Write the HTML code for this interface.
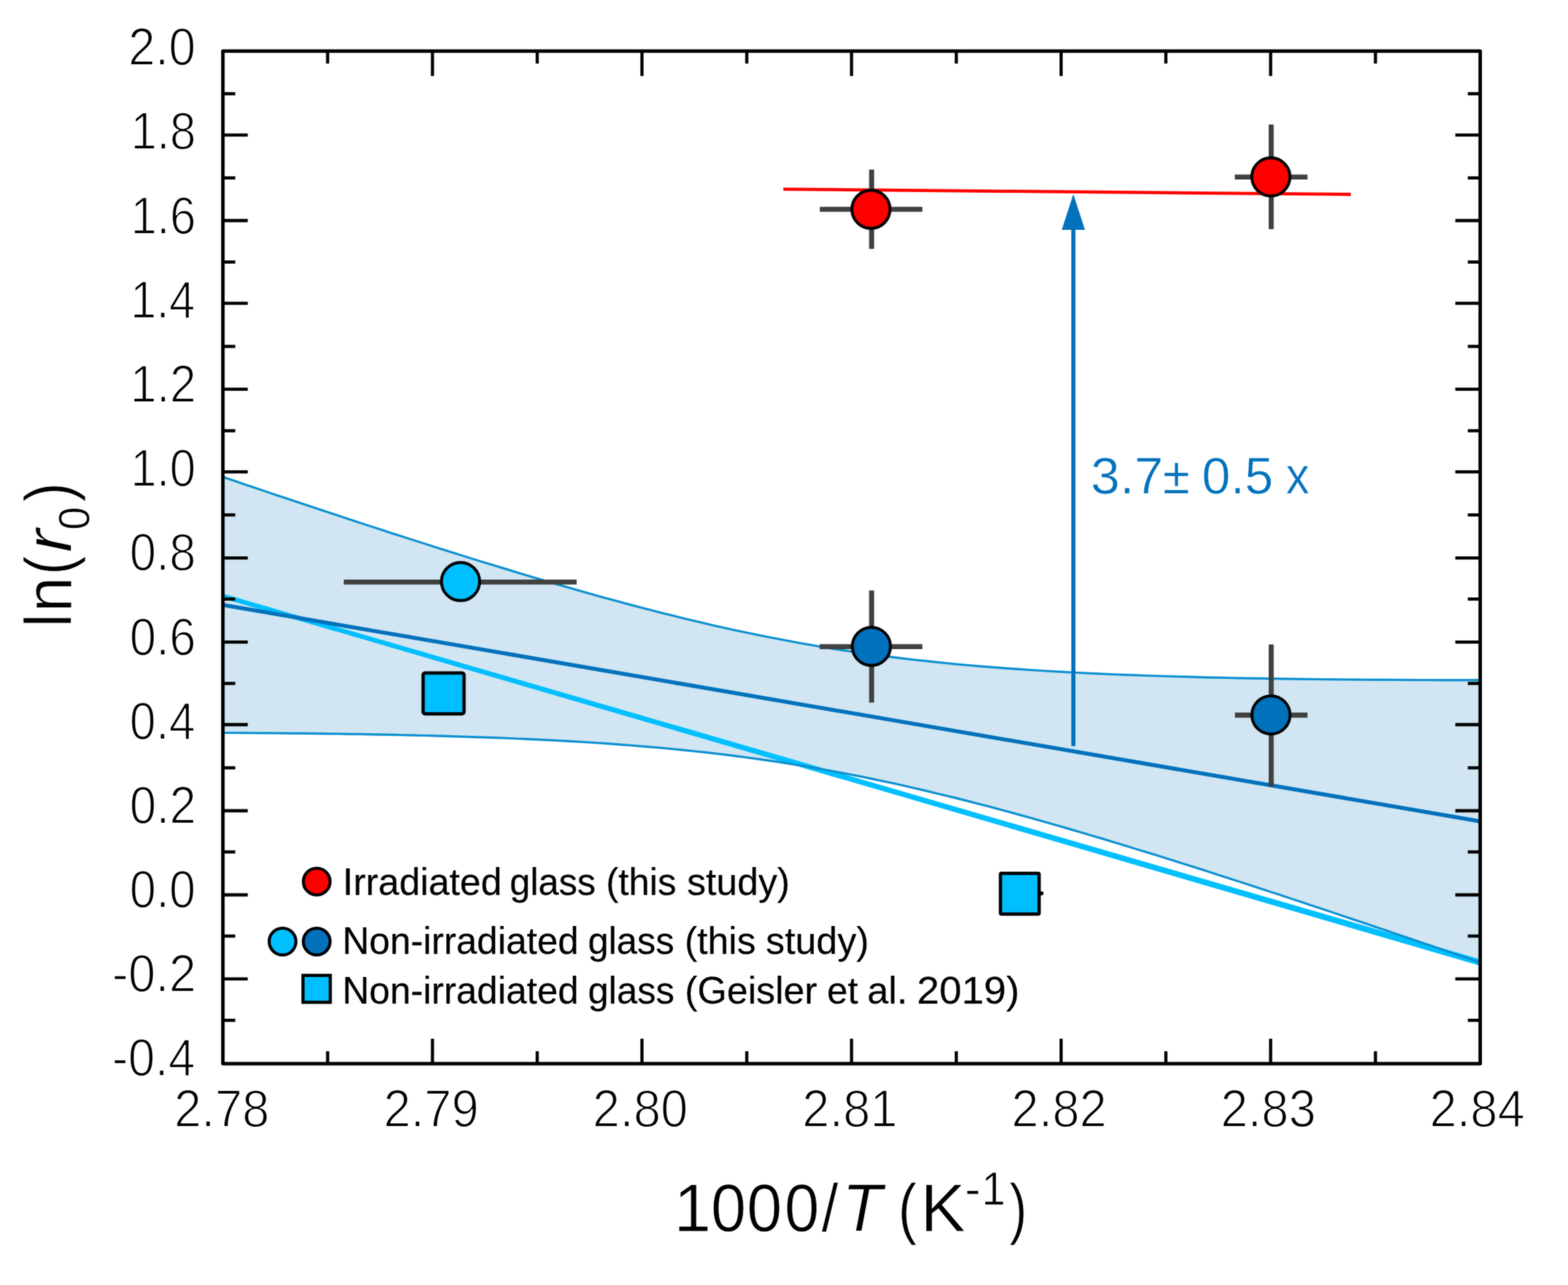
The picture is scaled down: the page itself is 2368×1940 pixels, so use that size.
<!DOCTYPE html>
<html lang="en"><head><meta charset="utf-8"><title>ln(r0) vs 1000/T</title>
<style>html,body{margin:0;padding:0;background:#fff;}svg{display:block;}</style></head>
<body>
<svg width="2368" height="1940" viewBox="0 0 2368 1940" font-family='"Liberation Sans", Arial, Helvetica, sans-serif'>
<defs><filter id="soft" filterUnits="userSpaceOnUse" x="0" y="0" width="2368" height="1940" color-interpolation-filters="sRGB"><feGaussianBlur stdDeviation="0.9" result="b"/><feComposite in="SourceGraphic" in2="b" operator="arithmetic" k1="0" k2="0.5" k3="0.5" k4="0"/></filter></defs>
<g filter="url(#soft)">
<rect x="0" y="0" width="2368" height="1940" fill="#ffffff"/>
<polygon points="336.6,720.1 352.4,725.4 368.2,730.8 384.1,736.1 399.9,741.5 415.7,746.8 431.5,752.1 447.4,757.4 463.2,762.7 479.0,767.9 494.8,773.2 510.7,778.4 526.5,783.6 542.3,788.8 558.1,794.0 574.0,799.1 589.8,804.3 605.6,809.4 621.4,814.5 637.2,819.5 653.1,824.6 668.9,829.6 684.7,834.6 700.5,839.5 716.4,844.5 732.2,849.4 748.0,854.2 763.8,859.0 779.7,863.8 795.5,868.6 811.3,873.3 827.1,878.0 842.9,882.6 858.8,887.2 874.6,891.7 890.4,896.1 906.2,900.6 922.1,904.9 937.9,909.2 953.7,913.5 969.5,917.6 985.4,921.7 1001.2,925.8 1017.0,929.7 1032.8,933.6 1048.7,937.4 1064.5,941.1 1080.3,944.8 1096.1,948.3 1111.9,951.8 1127.8,955.2 1143.6,958.4 1159.4,961.6 1175.2,964.7 1191.1,967.7 1206.9,970.6 1222.7,973.4 1238.5,976.1 1254.4,978.7 1270.2,981.2 1286.0,983.6 1301.8,985.9 1317.6,988.1 1333.5,990.3 1349.3,992.3 1365.1,994.2 1380.9,996.1 1396.8,997.8 1412.6,999.5 1428.4,1001.1 1444.2,1002.7 1460.1,1004.1 1475.9,1005.5 1491.7,1006.8 1507.5,1008.0 1523.3,1009.2 1539.2,1010.3 1555.0,1011.4 1570.8,1012.4 1586.6,1013.4 1602.5,1014.3 1618.3,1015.1 1634.1,1015.9 1649.9,1016.7 1665.8,1017.4 1681.6,1018.1 1697.4,1018.7 1713.2,1019.3 1729.1,1019.9 1744.9,1020.4 1760.7,1020.9 1776.5,1021.4 1792.3,1021.8 1808.2,1022.3 1824.0,1022.7 1839.8,1023.0 1855.6,1023.4 1871.5,1023.7 1887.3,1024.0 1903.1,1024.3 1918.9,1024.5 1934.8,1024.8 1950.6,1025.0 1966.4,1025.2 1982.2,1025.4 1998.1,1025.6 2013.9,1025.7 2029.7,1025.9 2045.5,1026.0 2061.3,1026.1 2077.2,1026.2 2093.0,1026.3 2108.8,1026.4 2124.6,1026.5 2140.5,1026.6 2156.3,1026.6 2172.1,1026.7 2187.9,1026.7 2203.8,1026.7 2219.6,1026.7 2235.4,1026.7 2235.4,1453.2 2219.6,1447.8 2203.8,1442.4 2187.9,1437.0 2172.1,1431.5 2156.3,1426.1 2140.5,1420.8 2124.6,1415.4 2108.8,1410.0 2093.0,1404.6 2077.2,1399.3 2061.3,1393.9 2045.5,1388.6 2029.7,1383.3 2013.9,1378.0 1998.1,1372.7 1982.2,1367.5 1966.4,1362.2 1950.6,1357.0 1934.8,1351.7 1918.9,1346.5 1903.1,1341.4 1887.3,1336.2 1871.5,1331.0 1855.6,1325.9 1839.8,1320.8 1824.0,1315.7 1808.2,1310.7 1792.3,1305.7 1776.5,1300.7 1760.7,1295.7 1744.9,1290.7 1729.1,1285.8 1713.2,1281.0 1697.4,1276.1 1681.6,1271.3 1665.8,1266.5 1649.9,1261.8 1634.1,1257.1 1618.3,1252.5 1602.5,1247.9 1586.6,1243.3 1570.8,1238.8 1555.0,1234.4 1539.2,1230.0 1523.3,1225.7 1507.5,1221.4 1491.7,1217.2 1475.9,1213.1 1460.1,1209.0 1444.2,1205.0 1428.4,1201.1 1412.6,1197.3 1396.8,1193.5 1380.9,1189.8 1365.1,1186.2 1349.3,1182.7 1333.5,1179.3 1317.6,1176.0 1301.8,1172.7 1286.0,1169.6 1270.2,1166.6 1254.4,1163.6 1238.5,1160.8 1222.7,1158.0 1206.9,1155.4 1191.1,1152.8 1175.2,1150.4 1159.4,1148.0 1143.6,1145.8 1127.8,1143.6 1111.9,1141.5 1096.1,1139.5 1080.3,1137.6 1064.5,1135.8 1048.7,1134.1 1032.8,1132.5 1017.0,1130.9 1001.2,1129.4 985.4,1128.0 969.5,1126.7 953.7,1125.4 937.9,1124.2 922.1,1123.0 906.2,1121.9 890.4,1120.9 874.6,1119.9 858.8,1119.0 842.9,1118.1 827.1,1117.3 811.3,1116.5 795.5,1115.8 779.7,1115.1 763.8,1114.4 748.0,1113.8 732.2,1113.2 716.4,1112.7 700.5,1112.2 684.7,1111.7 668.9,1111.2 653.1,1110.8 637.2,1110.4 621.4,1110.0 605.6,1109.6 589.8,1109.3 574.0,1109.0 558.1,1108.7 542.3,1108.4 526.5,1108.2 510.7,1107.9 494.8,1107.7 479.0,1107.5 463.2,1107.3 447.4,1107.2 431.5,1107.0 415.7,1106.9 399.9,1106.8 384.1,1106.6 368.2,1106.5 352.4,1106.4 336.6,1106.4" fill="#d1e6f2"/>
<polygon points="336.6,896.2 2235.4,1448.3 2235.4,1457.9 336.6,903.4" fill="#00bfff"/>
<polyline points="336.6,720.1 352.4,725.4 368.2,730.8 384.1,736.1 399.9,741.5 415.7,746.8 431.5,752.1 447.4,757.4 463.2,762.7 479.0,767.9 494.8,773.2 510.7,778.4 526.5,783.6 542.3,788.8 558.1,794.0 574.0,799.1 589.8,804.3 605.6,809.4 621.4,814.5 637.2,819.5 653.1,824.6 668.9,829.6 684.7,834.6 700.5,839.5 716.4,844.5 732.2,849.4 748.0,854.2 763.8,859.0 779.7,863.8 795.5,868.6 811.3,873.3 827.1,878.0 842.9,882.6 858.8,887.2 874.6,891.7 890.4,896.1 906.2,900.6 922.1,904.9 937.9,909.2 953.7,913.5 969.5,917.6 985.4,921.7 1001.2,925.8 1017.0,929.7 1032.8,933.6 1048.7,937.4 1064.5,941.1 1080.3,944.8 1096.1,948.3 1111.9,951.8 1127.8,955.2 1143.6,958.4 1159.4,961.6 1175.2,964.7 1191.1,967.7 1206.9,970.6 1222.7,973.4 1238.5,976.1 1254.4,978.7 1270.2,981.2 1286.0,983.6 1301.8,985.9 1317.6,988.1 1333.5,990.3 1349.3,992.3 1365.1,994.2 1380.9,996.1 1396.8,997.8 1412.6,999.5 1428.4,1001.1 1444.2,1002.7 1460.1,1004.1 1475.9,1005.5 1491.7,1006.8 1507.5,1008.0 1523.3,1009.2 1539.2,1010.3 1555.0,1011.4 1570.8,1012.4 1586.6,1013.4 1602.5,1014.3 1618.3,1015.1 1634.1,1015.9 1649.9,1016.7 1665.8,1017.4 1681.6,1018.1 1697.4,1018.7 1713.2,1019.3 1729.1,1019.9 1744.9,1020.4 1760.7,1020.9 1776.5,1021.4 1792.3,1021.8 1808.2,1022.3 1824.0,1022.7 1839.8,1023.0 1855.6,1023.4 1871.5,1023.7 1887.3,1024.0 1903.1,1024.3 1918.9,1024.5 1934.8,1024.8 1950.6,1025.0 1966.4,1025.2 1982.2,1025.4 1998.1,1025.6 2013.9,1025.7 2029.7,1025.9 2045.5,1026.0 2061.3,1026.1 2077.2,1026.2 2093.0,1026.3 2108.8,1026.4 2124.6,1026.5 2140.5,1026.6 2156.3,1026.6 2172.1,1026.7 2187.9,1026.7 2203.8,1026.7 2219.6,1026.7 2235.4,1026.7" fill="none" stroke="#0a8fcf" stroke-width="3.4"/>
<polyline points="336.6,1106.4 352.4,1106.4 368.2,1106.5 384.1,1106.6 399.9,1106.8 415.7,1106.9 431.5,1107.0 447.4,1107.2 463.2,1107.3 479.0,1107.5 494.8,1107.7 510.7,1107.9 526.5,1108.2 542.3,1108.4 558.1,1108.7 574.0,1109.0 589.8,1109.3 605.6,1109.6 621.4,1110.0 637.2,1110.4 653.1,1110.8 668.9,1111.2 684.7,1111.7 700.5,1112.2 716.4,1112.7 732.2,1113.2 748.0,1113.8 763.8,1114.4 779.7,1115.1 795.5,1115.8 811.3,1116.5 827.1,1117.3 842.9,1118.1 858.8,1119.0 874.6,1119.9 890.4,1120.9 906.2,1121.9 922.1,1123.0 937.9,1124.2 953.7,1125.4 969.5,1126.7 985.4,1128.0 1001.2,1129.4 1017.0,1130.9 1032.8,1132.5 1048.7,1134.1 1064.5,1135.8 1080.3,1137.6 1096.1,1139.5 1111.9,1141.5 1127.8,1143.6 1143.6,1145.8 1159.4,1148.0 1175.2,1150.4 1191.1,1152.8 1206.9,1155.4 1222.7,1158.0 1238.5,1160.8 1254.4,1163.6 1270.2,1166.6 1286.0,1169.6 1301.8,1172.7 1317.6,1176.0 1333.5,1179.3 1349.3,1182.7 1365.1,1186.2 1380.9,1189.8 1396.8,1193.5 1412.6,1197.3 1428.4,1201.1 1444.2,1205.0 1460.1,1209.0 1475.9,1213.1 1491.7,1217.2 1507.5,1221.4 1523.3,1225.7 1539.2,1230.0 1555.0,1234.4 1570.8,1238.8 1586.6,1243.3 1602.5,1247.9 1618.3,1252.5 1634.1,1257.1 1649.9,1261.8 1665.8,1266.5 1681.6,1271.3 1697.4,1276.1 1713.2,1281.0 1729.1,1285.8 1744.9,1290.7 1760.7,1295.7 1776.5,1300.7 1792.3,1305.7 1808.2,1310.7 1824.0,1315.7 1839.8,1320.8 1855.6,1325.9 1871.5,1331.0 1887.3,1336.2 1903.1,1341.4 1918.9,1346.5 1934.8,1351.7 1950.6,1357.0 1966.4,1362.2 1982.2,1367.5 1998.1,1372.7 2013.9,1378.0 2029.7,1383.3 2045.5,1388.6 2061.3,1393.9 2077.2,1399.3 2093.0,1404.6 2108.8,1410.0 2124.6,1415.4 2140.5,1420.8 2156.3,1426.1 2172.1,1431.5 2187.9,1437.0 2203.8,1442.4 2219.6,1447.8 2235.4,1453.2" fill="none" stroke="#0a8fcf" stroke-width="3.4"/>
<line x1="336.6" y1="913.2" x2="2235.4" y2="1240.0" stroke="#0271bb" stroke-width="6.0"/>
<line x1="1621" y1="340" x2="1621" y2="1126.5" stroke="#0271bb" stroke-width="6.2"/>
<polygon points="1621,293 1638.5,347 1603.5,347" fill="#0271bb"/>
<g stroke="#000" stroke-width="4.8" stroke-linecap="butt">
<line x1="336.6" y1="141.5" x2="355.3" y2="141.5"/>
<line x1="2235.4" y1="141.5" x2="2216.7" y2="141.5"/>
<line x1="336.6" y1="203.8" x2="374.2" y2="203.8"/>
<line x1="2235.4" y1="203.8" x2="2197.8" y2="203.8"/>
<line x1="336.6" y1="268.6" x2="355.3" y2="268.6"/>
<line x1="2235.4" y1="268.6" x2="2216.7" y2="268.6"/>
<line x1="336.6" y1="333.0" x2="374.2" y2="333.0"/>
<line x1="2235.4" y1="333.0" x2="2197.8" y2="333.0"/>
<line x1="336.6" y1="395.6" x2="355.3" y2="395.6"/>
<line x1="2235.4" y1="395.6" x2="2216.7" y2="395.6"/>
<line x1="336.6" y1="457.8" x2="374.2" y2="457.8"/>
<line x1="2235.4" y1="457.8" x2="2197.8" y2="457.8"/>
<line x1="336.6" y1="523.0" x2="355.3" y2="523.0"/>
<line x1="2235.4" y1="523.0" x2="2216.7" y2="523.0"/>
<line x1="336.6" y1="587.6" x2="374.2" y2="587.6"/>
<line x1="2235.4" y1="587.6" x2="2197.8" y2="587.6"/>
<line x1="336.6" y1="650.3" x2="355.3" y2="650.3"/>
<line x1="2235.4" y1="650.3" x2="2216.7" y2="650.3"/>
<line x1="336.6" y1="712.3" x2="374.2" y2="712.3"/>
<line x1="2235.4" y1="712.3" x2="2197.8" y2="712.3"/>
<line x1="336.6" y1="777.4" x2="355.3" y2="777.4"/>
<line x1="2235.4" y1="777.4" x2="2216.7" y2="777.4"/>
<line x1="336.6" y1="842.3" x2="374.2" y2="842.3"/>
<line x1="2235.4" y1="842.3" x2="2197.8" y2="842.3"/>
<line x1="336.6" y1="904.4" x2="355.3" y2="904.4"/>
<line x1="2235.4" y1="904.4" x2="2216.7" y2="904.4"/>
<line x1="336.6" y1="969.3" x2="374.2" y2="969.3"/>
<line x1="2235.4" y1="969.3" x2="2197.8" y2="969.3"/>
<line x1="336.6" y1="1031.8" x2="355.3" y2="1031.8"/>
<line x1="2235.4" y1="1031.8" x2="2216.7" y2="1031.8"/>
<line x1="336.6" y1="1094.0" x2="374.2" y2="1094.0"/>
<line x1="2235.4" y1="1094.0" x2="2197.8" y2="1094.0"/>
<line x1="336.6" y1="1159.2" x2="355.3" y2="1159.2"/>
<line x1="2235.4" y1="1159.2" x2="2216.7" y2="1159.2"/>
<line x1="336.6" y1="1224.0" x2="374.2" y2="1224.0"/>
<line x1="2235.4" y1="1224.0" x2="2197.8" y2="1224.0"/>
<line x1="336.6" y1="1286.2" x2="355.3" y2="1286.2"/>
<line x1="2235.4" y1="1286.2" x2="2216.7" y2="1286.2"/>
<line x1="336.6" y1="1351.0" x2="374.2" y2="1351.0"/>
<line x1="2235.4" y1="1351.0" x2="2197.8" y2="1351.0"/>
<line x1="336.6" y1="1413.2" x2="355.3" y2="1413.2"/>
<line x1="2235.4" y1="1413.2" x2="2216.7" y2="1413.2"/>
<line x1="336.6" y1="1477.8" x2="374.2" y2="1477.8"/>
<line x1="2235.4" y1="1477.8" x2="2197.8" y2="1477.8"/>
<line x1="336.6" y1="1540.4" x2="355.3" y2="1540.4"/>
<line x1="2235.4" y1="1540.4" x2="2216.7" y2="1540.4"/>
<line x1="494.8" y1="77.2" x2="494.8" y2="95.9"/>
<line x1="494.8" y1="1605.8" x2="494.8" y2="1587.1"/>
<line x1="653.1" y1="77.2" x2="653.1" y2="114.8"/>
<line x1="653.1" y1="1605.8" x2="653.1" y2="1568.2"/>
<line x1="811.3" y1="77.2" x2="811.3" y2="95.9"/>
<line x1="811.3" y1="1605.8" x2="811.3" y2="1587.1"/>
<line x1="969.5" y1="77.2" x2="969.5" y2="114.8"/>
<line x1="969.5" y1="1605.8" x2="969.5" y2="1568.2"/>
<line x1="1127.8" y1="77.2" x2="1127.8" y2="95.9"/>
<line x1="1127.8" y1="1605.8" x2="1127.8" y2="1587.1"/>
<line x1="1286.0" y1="77.2" x2="1286.0" y2="114.8"/>
<line x1="1286.0" y1="1605.8" x2="1286.0" y2="1568.2"/>
<line x1="1444.2" y1="77.2" x2="1444.2" y2="95.9"/>
<line x1="1444.2" y1="1605.8" x2="1444.2" y2="1587.1"/>
<line x1="1602.5" y1="77.2" x2="1602.5" y2="114.8"/>
<line x1="1602.5" y1="1605.8" x2="1602.5" y2="1568.2"/>
<line x1="1760.7" y1="77.2" x2="1760.7" y2="95.9"/>
<line x1="1760.7" y1="1605.8" x2="1760.7" y2="1587.1"/>
<line x1="1918.9" y1="77.2" x2="1918.9" y2="114.8"/>
<line x1="1918.9" y1="1605.8" x2="1918.9" y2="1568.2"/>
<line x1="2077.2" y1="77.2" x2="2077.2" y2="95.9"/>
<line x1="2077.2" y1="1605.8" x2="2077.2" y2="1587.1"/>
</g>
<rect x="336.6" y="77.2" width="1898.8" height="1528.6" fill="none" stroke="#000" stroke-width="5.3" stroke-linejoin="round"/>
<line x1="1183" y1="285.6" x2="2040" y2="293.5" stroke="#ff0000" stroke-width="4.8"/>
<line x1="519.1" y1="878.8" x2="870.9" y2="878.8" stroke="#404040" stroke-width="7.6" stroke-linecap="butt"/>
<circle cx="695.5" cy="878" r="28.8" fill="#00bfff" stroke="#000" stroke-width="4.4"/>
<line x1="1238.1" y1="316" x2="1393.0" y2="316" stroke="#404040" stroke-width="7.6" stroke-linecap="butt"/>
<line x1="1316.3" y1="255.9" x2="1316.3" y2="375.79999999999995" stroke="#404040" stroke-width="7.6" stroke-linecap="butt"/>
<circle cx="1315.3" cy="316" r="28.8" fill="#ff0000" stroke="#000" stroke-width="4.4"/>
<line x1="1864.8" y1="267.3" x2="1974.6000000000001" y2="267.3" stroke="#404040" stroke-width="7.6" stroke-linecap="butt"/>
<line x1="1919.8" y1="187.9" x2="1919.8" y2="346.0" stroke="#404040" stroke-width="7.6" stroke-linecap="butt"/>
<circle cx="1919.3" cy="267.1" r="28.8" fill="#ff0000" stroke="#000" stroke-width="4.4"/>
<line x1="1237.8" y1="976.2" x2="1393.0" y2="976.2" stroke="#404040" stroke-width="7.6" stroke-linecap="butt"/>
<line x1="1316.3" y1="891.6" x2="1316.3" y2="1060.8000000000002" stroke="#404040" stroke-width="7.6" stroke-linecap="butt"/>
<circle cx="1316" cy="975.9" r="28.8" fill="#0271bb" stroke="#000" stroke-width="4.4"/>
<line x1="1865.0" y1="1079.6" x2="1974.6000000000001" y2="1079.6" stroke="#404040" stroke-width="7.6" stroke-linecap="butt"/>
<line x1="1919.8" y1="972.9" x2="1919.8" y2="1187.3000000000002" stroke="#404040" stroke-width="7.6" stroke-linecap="butt"/>
<circle cx="1919.4" cy="1079.4" r="28.8" fill="#0271bb" stroke="#000" stroke-width="4.4"/>
<rect x="639.0" y="1015.9" width="61.8" height="61.8" rx="3" fill="#00bfff" stroke="#000" stroke-width="5"/>
<line x1="1565" y1="1348.8" x2="1573" y2="1348.8" stroke="#000" stroke-width="6" stroke-linecap="round"/>
<rect x="1510.9" y="1318.6" width="58.4" height="61.4" rx="1.5" fill="#00bfff" stroke="#000" stroke-width="5"/>
<circle cx="478.3" cy="1330.9" r="20.2" fill="#ff0000" stroke="#000" stroke-width="4.6"/>
<circle cx="426.7" cy="1421.5" r="20.2" fill="#00bfff" stroke="#000" stroke-width="4.6"/>
<circle cx="478.3" cy="1421.5" r="20.2" fill="#0271bb" stroke="#000" stroke-width="4.6"/>
<rect x="457.6" y="1472.6" width="41.2" height="40.6" fill="#00bfff" stroke="#000" stroke-width="4.8"/>
<text y="1350.50" font-size="57.1" fill="#000" stroke="#000" stroke-width="0.25" stroke-linejoin="round"><tspan x="517.61" textLength="240.24" lengthAdjust="spacingAndGlyphs">Irradiated</tspan> <tspan x="769.69" textLength="130.00" lengthAdjust="spacingAndGlyphs">glass</tspan> <tspan x="915.25" textLength="106.23" lengthAdjust="spacingAndGlyphs">(this</tspan> <tspan x="1037.51" textLength="155.26" lengthAdjust="spacingAndGlyphs">study)</tspan></text>
<text y="1439.80" font-size="57.1" fill="#000" stroke="#000" stroke-width="0.25" stroke-linejoin="round"><tspan x="516.92" textLength="356.90" lengthAdjust="spacingAndGlyphs">Non-irradiated</tspan> <tspan x="887.89" textLength="130.31" lengthAdjust="spacingAndGlyphs">glass</tspan> <tspan x="1034.01" textLength="107.39" lengthAdjust="spacingAndGlyphs">(this</tspan> <tspan x="1156.61" textLength="155.67" lengthAdjust="spacingAndGlyphs">study)</tspan></text>
<text y="1515.20" font-size="57.1" fill="#000" stroke="#000" stroke-width="0.25" stroke-linejoin="round"><tspan x="516.92" textLength="356.90" lengthAdjust="spacingAndGlyphs">Non-irradiated</tspan> <tspan x="887.88" textLength="130.62" lengthAdjust="spacingAndGlyphs">glass</tspan> <tspan x="1034.20" textLength="199.96" lengthAdjust="spacingAndGlyphs">(Geisler</tspan> <tspan x="1249.10" textLength="46.78" lengthAdjust="spacingAndGlyphs">et</tspan> <tspan x="1309.84" textLength="60.78" lengthAdjust="spacingAndGlyphs">al.</tspan> <tspan x="1384.81" textLength="154.85" lengthAdjust="spacingAndGlyphs">2019)</tspan></text>
<text y="745.30" font-size="77.0" fill="#0271bb" stroke="#fff" stroke-width="0.7"><tspan x="1647.29" textLength="109.63" lengthAdjust="spacingAndGlyphs">3.7</tspan><tspan x="1756.24" textLength="40.74" lengthAdjust="spacingAndGlyphs">±</tspan> <tspan x="1815.05" textLength="107.82" lengthAdjust="spacingAndGlyphs">0.5</tspan> <tspan x="1941.91" textLength="35.58" lengthAdjust="spacingAndGlyphs">x</tspan></text>
<text y="98.20" font-size="79.0" fill="#000" stroke="#fff" stroke-width="1.8"><tspan x="193.81" textLength="101.77" lengthAdjust="spacingAndGlyphs">2.0</tspan></text>
<text y="225.39" font-size="79.0" fill="#000" stroke="#fff" stroke-width="1.8"><tspan x="197.38" textLength="98.42" lengthAdjust="spacingAndGlyphs">1.8</tspan></text>
<text y="352.58" font-size="79.0" fill="#000" stroke="#fff" stroke-width="1.8"><tspan x="197.38" textLength="98.42" lengthAdjust="spacingAndGlyphs">1.6</tspan></text>
<text y="479.77" font-size="79.0" fill="#000" stroke="#fff" stroke-width="1.8"><tspan x="196.92" textLength="97.80" lengthAdjust="spacingAndGlyphs">1.4</tspan></text>
<text y="606.96" font-size="79.0" fill="#000" stroke="#fff" stroke-width="1.8"><tspan x="196.82" textLength="99.37" lengthAdjust="spacingAndGlyphs">1.2</tspan></text>
<text y="734.15" font-size="79.0" fill="#000" stroke="#fff" stroke-width="1.8"><tspan x="197.19" textLength="98.25" lengthAdjust="spacingAndGlyphs">1.0</tspan></text>
<text y="861.34" font-size="79.0" fill="#000" stroke="#fff" stroke-width="1.8"><tspan x="195.80" textLength="100.07" lengthAdjust="spacingAndGlyphs">0.8</tspan></text>
<text y="988.53" font-size="79.0" fill="#000" stroke="#fff" stroke-width="1.8"><tspan x="195.80" textLength="100.07" lengthAdjust="spacingAndGlyphs">0.6</tspan></text>
<text y="1115.72" font-size="79.0" fill="#000" stroke="#fff" stroke-width="1.8"><tspan x="195.84" textLength="98.91" lengthAdjust="spacingAndGlyphs">0.4</tspan></text>
<text y="1242.91" font-size="79.0" fill="#000" stroke="#fff" stroke-width="1.8"><tspan x="195.79" textLength="100.46" lengthAdjust="spacingAndGlyphs">0.2</tspan></text>
<text y="1370.10" font-size="79.0" fill="#000" stroke="#fff" stroke-width="1.8"><tspan x="195.81" textLength="99.68" lengthAdjust="spacingAndGlyphs">0.0</tspan></text>
<text y="1497.29" font-size="79.0" fill="#000" stroke="#fff" stroke-width="1.8"><tspan x="169.14" textLength="127.05" lengthAdjust="spacingAndGlyphs">-0.2</tspan></text>
<text y="1624.48" font-size="79.0" fill="#000" stroke="#fff" stroke-width="1.8"><tspan x="169.19" textLength="125.49" lengthAdjust="spacingAndGlyphs">-0.4</tspan></text>
<text y="1700.60" font-size="79.0" fill="#000" stroke="#fff" stroke-width="1.8"><tspan x="262.97" textLength="143.92" lengthAdjust="spacingAndGlyphs">2.78</tspan></text>
<text y="1700.60" font-size="79.0" fill="#000" stroke="#fff" stroke-width="1.8"><tspan x="579.21" textLength="143.92" lengthAdjust="spacingAndGlyphs">2.79</tspan></text>
<text y="1700.60" font-size="79.0" fill="#000" stroke="#fff" stroke-width="1.8"><tspan x="895.09" textLength="143.92" lengthAdjust="spacingAndGlyphs">2.80</tspan></text>
<text y="1700.60" font-size="79.0" fill="#000" stroke="#fff" stroke-width="1.8"><tspan x="1211.52" textLength="143.92" lengthAdjust="spacingAndGlyphs">2.81</tspan></text>
<text y="1700.60" font-size="79.0" fill="#000" stroke="#fff" stroke-width="1.8"><tspan x="1527.58" textLength="143.92" lengthAdjust="spacingAndGlyphs">2.82</tspan></text>
<text y="1700.60" font-size="79.0" fill="#000" stroke="#fff" stroke-width="1.8"><tspan x="1843.45" textLength="143.92" lengthAdjust="spacingAndGlyphs">2.83</tspan></text>
<text y="1700.60" font-size="79.0" fill="#000" stroke="#fff" stroke-width="1.8"><tspan x="2158.96" textLength="143.92" lengthAdjust="spacingAndGlyphs">2.84</tspan></text>
<text y="1858.90" font-size="101.5" fill="#000" stroke="#fff" stroke-width="1.0"><tspan x="1017.59" textLength="56.45" lengthAdjust="spacingAndGlyphs">1</tspan><tspan x="1073.59" textLength="53.33" lengthAdjust="spacingAndGlyphs">0</tspan><tspan x="1127.79" textLength="53.33" lengthAdjust="spacingAndGlyphs">0</tspan><tspan x="1184.66" textLength="52.49" lengthAdjust="spacingAndGlyphs">0</tspan><tspan x="1240.65" textLength="25.25" lengthAdjust="spacingAndGlyphs">/</tspan><tspan x="1271.71" textLength="60.43" lengthAdjust="spacingAndGlyphs" font-style="italic">T</tspan> <tspan x="1356.28" textLength="28.32" lengthAdjust="spacingAndGlyphs">(</tspan><tspan x="1389.91" textLength="68.22" lengthAdjust="spacingAndGlyphs">K</tspan><tspan x="1457.12" textLength="24.12" lengthAdjust="spacingAndGlyphs" y="1818.9" font-size="69.5">-</tspan><tspan x="1482.49" textLength="35.95" lengthAdjust="spacingAndGlyphs" y="1818.9" font-size="69.5">1</tspan><tspan x="1524.19" textLength="26.89" lengthAdjust="spacingAndGlyphs" y="1858.9">)</tspan></text>
<text y="0.00" font-size="100" fill="#000" stroke="#fff" stroke-width="1.0" transform="translate(108.2,0) rotate(-90)"><tspan x="-946.89" textLength="20.27" lengthAdjust="spacingAndGlyphs">l</tspan><tspan x="-924.21" textLength="53.34" lengthAdjust="spacingAndGlyphs">n</tspan><tspan x="-868.03" textLength="28.86" lengthAdjust="spacingAndGlyphs">(</tspan><tspan x="-834.12" textLength="35.26" lengthAdjust="spacingAndGlyphs" font-style="italic">r</tspan><tspan x="-800.31" textLength="35.30" lengthAdjust="spacingAndGlyphs" y="26.4" font-size="67">0</tspan><tspan x="-757.82" textLength="29.30" lengthAdjust="spacingAndGlyphs" y="0">)</tspan></text>
</g>
</svg>
</body></html>
